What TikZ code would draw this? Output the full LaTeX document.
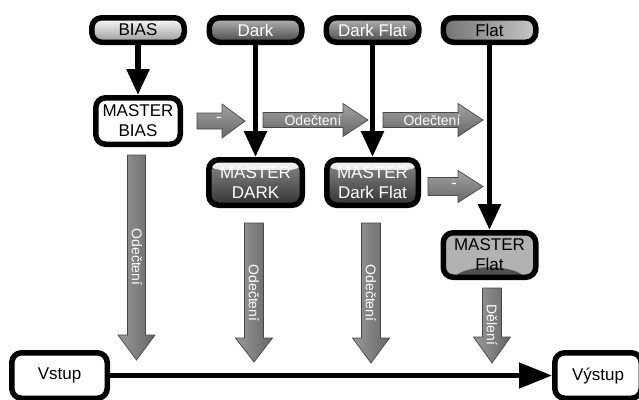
\documentclass[tikz,border=0pt]{standalone}
\usepackage{fontspec}
\setmainfont{Liberation Sans}
\usetikzlibrary{arrows.meta,shadows}
\newcommand\hblock[7]{% name, x0, x1 (head start), x2 (tip), yc, half shaft, half head
  \draw[grayarrow,top color=black!36,bottom color=black!60] (#2,#5-#6) -- (#3,#5-#6) -- (#3,#5-#7) -- (#4,#5) -- (#3,#5+#7) -- (#3,#5+#6) -- (#2,#5+#6) -- cycle;
  \coordinate (#1) at (#2,#5);}
\newcommand\vblock[7]{% name, xc, y0, y1 (head start), y2 (tip), half shaft, half head
  \draw[grayarrow,left color=black!40,right color=black!60] (#2-#6,#3) -- (#2-#6,#4) -- (#2-#7,#4) -- (#2,#5) -- (#2+#7,#4) -- (#2+#6,#4) -- (#2+#6,#3) -- cycle;
  \coordinate (#1) at (#2,#3);}
\begin{document}
\begin{tikzpicture}[x=1pt,y=-1pt,
  box/.style={draw=black, line width=5.5pt, rounded corners=10pt, align=center,
    font=\fontsize{17}{20}\selectfont, inner sep=0pt,
    drop shadow={opacity=0.25,shadow xshift=1.5pt,shadow yshift=-1.5pt}},
  topbox/.style={box, minimum width=92.5pt, minimum height=24.5pt},
  darkfill/.style={top color=black!28, bottom color=black!72, text=white},
  masterdark/.style={top color=black!45, bottom color=black!80, text=white,
    path picture={\fill[top color=black!3, bottom color=black!32]
      (path picture bounding box.north west) rectangle ([yshift=-10pt]path picture bounding box.north east);}},
  grayarrow/.style={draw=black!72, line width=0.7pt},
  arrowtext/.style={text=white, font=\fontsize{14}{14}\selectfont, inner sep=0pt},
  conn/.style={line width=5.5pt, -{Triangle[length=26pt,width=22pt]}}
]
\useasboundingbox (0,0) rectangle (639,399);
\clip (0,0) rectangle (639,399);
\fill[white] (0,0) rectangle (639,399);

% top row
\node[topbox, top color=white, bottom color=black!40] (bias) at (138,30) {BIAS};
\node[topbox, darkfill] (dark) at (255.5,30) {Dark};
\node[topbox, darkfill] (darkflat) at (372.5,30) {Dark Flat};
\node[topbox, left color=black!55, middle color=white, right color=black!22] (flat) at (489.5,30) {Flat};

% master boxes
\node[box, fill=white, minimum width=84.5pt, minimum height=46.5pt] (mbias) at (138,121) {MASTER\\BIAS};
\node[box, masterdark, minimum width=93.5pt, minimum height=45.5pt] (mdark) at (255.5,182.5) {MASTER\\DARK};
\node[box, masterdark, minimum width=91.5pt, minimum height=45.5pt] (mdarkflat) at (372.5,182.5) {MASTER\\Dark Flat};
\node[box, fill=black!30, minimum width=92.5pt, minimum height=44.5pt,
  path picture={\fill[top color=black!50, bottom color=black!80]
    ([yshift=-3pt]path picture bounding box.south) ellipse [x radius=36pt, y radius=13pt];}]
  (mflat) at (489.5,255) {MASTER\\Flat};

% input / output
\node[box, fill=white, minimum width=95.5pt, minimum height=45.5pt] (vstup) at (59.5,375.5) {Vstup};
\node[box, fill=white, minimum width=86.5pt, minimum height=45.5pt] (vystup) at (598,375.5) {Výstup};

% gray block arrows (horizontal)
\hblock{h1}{197}{222}{245}{121}{8}{17}
\node[arrowtext, font=\fontsize{17}{17}\selectfont] (t1) at (219,120) {-};
\hblock{h2}{263}{343}{368}{120}{7.5}{16.5}
\node[arrowtext] (t2) at (313,120) {Odečtení};
\hblock{h3}{383}{458}{483}{120}{7.5}{16.5}
\node[arrowtext] (t3) at (432,120) {Odečtení};
\hblock{h4}{428}{458}{483}{186.5}{9}{16}
\node[arrowtext, font=\fontsize{17}{17}\selectfont] (t4) at (454,185.5) {-};

% gray block arrows (vertical)
\vblock{v1}{136.5}{155}{335}{360}{9}{18.5}
\node[arrowtext, rotate=-90] (t5) at (137,257) {Odečtení};
\vblock{v2}{254}{223}{338}{362}{9.5}{18.5}
\node[arrowtext, rotate=-90] (t6) at (254,293) {Odečtení};
\vblock{v3}{371}{223}{338}{363}{9.5}{18.5}
\node[arrowtext, rotate=-90] (t7) at (371,293) {Odečtení};
\vblock{v4}{492}{288}{337}{363}{9.5}{18.5}
\node[arrowtext, rotate=-90] (t8) at (492,325) {Dělení};

% black connectors
\draw[conn] (bias) -- (mbias);
\draw[conn] (dark) -- (mdark);
\draw[conn] (darkflat) -- (mdarkflat);
\draw[conn] (flat) -- (mflat);
\draw[line width=5pt, -{Triangle[length=33pt,width=25pt]}] (vstup) -- (vystup);
\end{tikzpicture}
\end{document}
